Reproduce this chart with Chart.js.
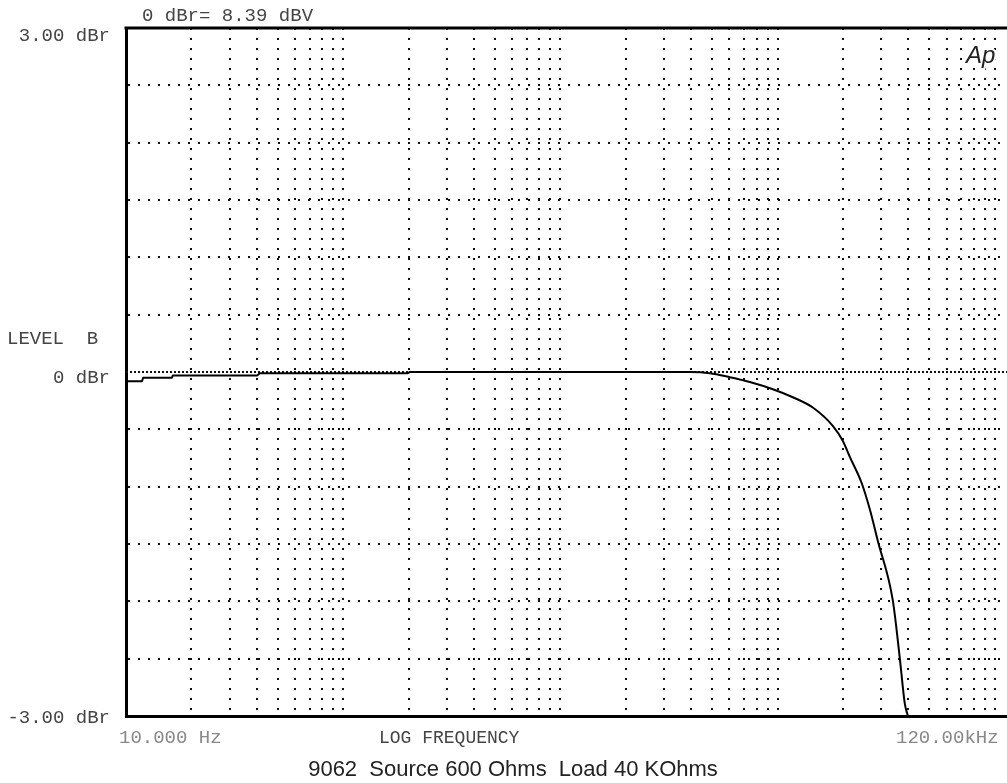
<!DOCTYPE html>
<html lang="en">

<head>
    <meta charset="UTF-8">
    <title>9062 Frequency Response</title>
    <style>
        html, body {
            margin: 0;
            padding: 0;
            overflow: hidden;
            background-color: #fff;
        }

        #wrap {
            width: 1007px;
            height: 783px;
            overflow: hidden;
        }
    </style>
    <script src="https://cdn.jsdelivr.net/npm/chart.js"></script>
</head>

<body>
    <div id="wrap">
        <canvas id="responseChart" width="1014" height="783"></canvas>
    </div>

    <script>
        // Respuesta medida (Hz, dBr)
        const freqHz = [10, 11.85, 12.0, 16.3, 16.4, 40.1, 41.4, 198, 203, 3940, 4880, 6030, 7450, 9510,
            11750, 14520, 17950, 19950, 21500, 24400, 26600, 28900, 33900, 36500, 38500, 39800];
        const levelDbr = [-0.08, -0.08, -0.05, -0.05, -0.03, -0.03, -0.01, -0.01, 0, 0, -0.01, -0.045, -0.087, -0.15,
            -0.22, -0.31, -0.47, -0.6, -0.74, -0.97, -1.2, -1.47, -1.99, -2.49, -2.89, -3.0];

        // Rejilla
        const xGridHz = [10, 20, 30, 40, 50, 60, 70, 80, 90,
            100, 200, 300, 400, 500, 600, 700, 800, 900,
            1000, 2000, 3000, 4000, 5000, 6000, 7000, 8000, 9000,
            10000, 20000, 30000, 40000, 50000, 60000, 70000, 80000, 90000, 100000];
        const yGridDb = [-3, -2.5, -2, -1.5, -1, -0.5, 0, 0.5, 1, 1.5, 2, 2.5, 3];
        const xRange = [10, 120000];
        const yRange = [-3, 3];

        // Textos del gráfico
        const topNote = '0 dBr= 8.39 dBV';
        const yLabels = ['3.00 dBr', '0 dBr', '-3.00 dBr'];
        const yTitle = 'LEVEL  B';
        const xStartLabel = '10.000 Hz';
        const xTitle = 'LOG FREQUENCY';
        const xEndLabel = '120.00kHz';
        const caption = '9062  Source 600 Ohms  Load 40 KOhms';

        const textPlugin = {
            id: 'apTexts',
            afterDraw(chart) {
                const { ctx, chartArea, scales } = chart;
                const y = scales.y;
                ctx.save();
                // borde superior
                ctx.strokeStyle = '#000';
                ctx.lineWidth = 3;
                ctx.beginPath();
                ctx.moveTo(chartArea.left - 1.5, chartArea.top);
                ctx.lineTo(chartArea.right, chartArea.top);
                ctx.stroke();

                ctx.font = '19px "Liberation Mono"';
                ctx.fillStyle = '#444';
                ctx.textBaseline = 'alphabetic';
                ctx.textAlign = 'left';
                ctx.fillText(topNote, 142, 21);

                ctx.textAlign = 'right';
                ctx.fillText(yLabels[0], 110, y.getPixelForValue(3) + 13);
                ctx.fillText(yLabels[1], 110, y.getPixelForValue(0) + 11);
                ctx.fillText(yLabels[2], 110, y.getPixelForValue(-3) + 7);

                ctx.textAlign = 'left';
                ctx.fillText(yTitle, 7, 344);

                ctx.fillStyle = '#888';
                ctx.fillText(xStartLabel, 119, 743);
                ctx.fillText(xEndLabel, 896, 743);
                ctx.fillStyle = '#444';
                ctx.font = '18px "Liberation Mono"';
                ctx.fillText(xTitle, 379, 743);

                ctx.font = '22px "Liberation Sans"';
                ctx.fillStyle = '#222';
                ctx.textAlign = 'center';
                ctx.fillText(caption, 513, 776);

                // logo
                ctx.font = 'italic 24px "Liberation Sans"';
                ctx.textAlign = 'left';
                ctx.lineWidth = 4;
                ctx.strokeStyle = '#fff';
                ctx.strokeText('Ap', 966, 63);
                ctx.fillStyle = '#222';
                ctx.fillText('Ap', 966, 63);
                ctx.restore();
            }
        };

        const ctx = document.getElementById('responseChart').getContext('2d');
        const responseChart = new Chart(ctx, {
            type: 'line',
            data: {
                datasets: [{
                    label: 'Level',
                    data: freqHz.map((f, i) => ({ x: f, y: levelDbr[i] })),
                    borderColor: '#000',
                    borderWidth: 2,
                    pointRadius: 0,
                    cubicInterpolationMode: 'monotone'
                }, {
                    label: '0 dBr',
                    data: [{ x: xRange[0], y: 0 }, { x: xRange[1], y: 0 }],
                    borderColor: '#111',
                    borderWidth: 2,
                    borderDash: [2, 2],
                    pointRadius: 0
                }]
            },
            options: {
                responsive: false,
                animation: false,
                layout: { padding: { left: 126, top: 28, right: 2, bottom: 67 } },
                plugins: {
                    legend: { display: false },
                    tooltip: { enabled: false }
                },
                scales: {
                    x: {
                        type: 'logarithmic',
                        min: xRange[0],
                        max: xRange[1],
                        afterBuildTicks: (s) => { s.ticks = xGridHz.map(v => ({ value: v })); },
                        ticks: { display: false },
                        grid: { color: '#111', lineWidth: 2, drawTicks: false },
                        border: { display: true, color: '#000', width: 3, dash: [2, 8] }
                    },
                    y: {
                        type: 'linear',
                        min: yRange[0],
                        max: yRange[1],
                        afterBuildTicks: (s) => { s.ticks = yGridDb.map(v => ({ value: v })); },
                        ticks: { display: false },
                        grid: {
                            color: (c) => (c.tick && c.tick.value === 0) ? 'rgba(0,0,0,0)' : '#111',
                            lineWidth: 2,
                            drawTicks: false
                        },
                        border: { display: true, color: '#000', width: 3, dash: [2, 8] }
                    }
                }
            },
            plugins: [textPlugin]
        });
    </script>
</body>

</html>
